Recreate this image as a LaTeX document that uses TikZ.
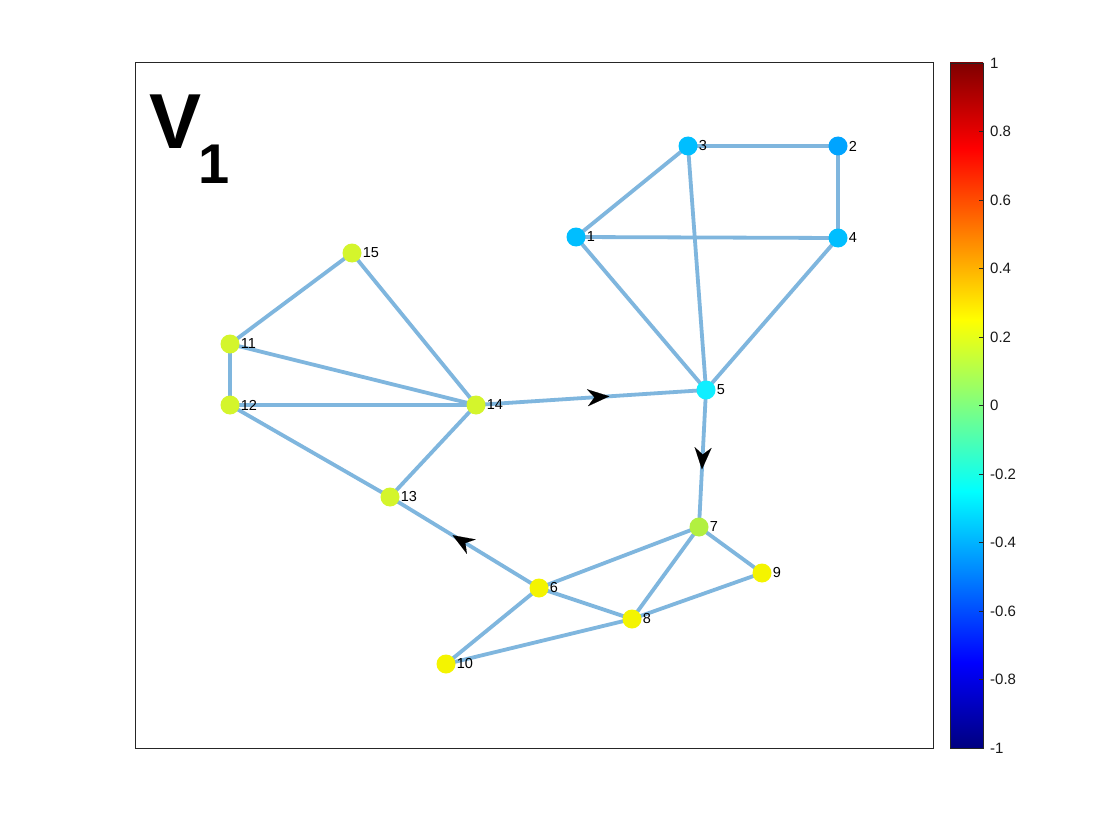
\documentclass[tikz,border=0pt]{standalone}
\usepackage{fontspec}
\setmainfont{Liberation Sans}
\usetikzlibrary{arrows.meta,decorations.markings}
\definecolor{edgec}{RGB}{127,182,222}
\definecolor{cA}{RGB}{0,190,255}
\definecolor{cB}{RGB}{0,164,255}
\definecolor{cC}{RGB}{16,238,255}
\definecolor{cD}{RGB}{178,240,64}
\definecolor{cE}{RGB}{212,245,44}
\definecolor{cF}{RGB}{244,244,0}
\definecolor{jet0}{RGB}{0,0,128}
\definecolor{jet1}{RGB}{0,0,255}
\definecolor{jet3}{RGB}{0,255,255}
\definecolor{jet5}{RGB}{255,255,0}
\definecolor{jet7}{RGB}{255,0,0}
\definecolor{jet8}{RGB}{128,0,0}
\definecolor{axc}{RGB}{38,38,38}
\tikzset{
  vtx/.style={circle,inner sep=0pt,minimum size=19pt,fill=#1},
  lbl/.style={anchor=west,font=\fontsize{14.5}{14.5}\selectfont,inner sep=0pt,xshift=1pt},
  edge/.style={draw=edgec,line width=3.8pt},
  midarrow/.style={decoration={markings,mark=at position 0.58 with {\arrow[black,line width=0.1pt]{Stealth[length=22pt,width=17pt,inset=7pt]}}},postaction={decorate}},
  ticklbl/.style={anchor=west,font=\fontsize{15}{15}\selectfont,text=black!90,inner sep=0pt}
}
\begin{document}
\begin{tikzpicture}[x=1pt,y=-1pt]
\useasboundingbox (0,0) rectangle (1120,840);
\fill[white] (0,0) rectangle (1120,840);
% axes box
\draw[axc,line width=1pt] (135,63) rectangle (933,748);
% vertices coordinates
\coordinate (p1) at (576,237);
\coordinate (p2) at (838,146);
\coordinate (p3) at (688,146);
\coordinate (p4) at (838,238);
\coordinate (p5) at (706,390);
\coordinate (p6) at (539,588);
\coordinate (p7) at (699,527);
\coordinate (p8) at (632,619);
\coordinate (p9) at (762,573);
\coordinate (p10) at (446,664);
\coordinate (p11) at (230,344);
\coordinate (p12) at (230,405);
\coordinate (p13) at (390,497);
\coordinate (p14) at (476,405);
\coordinate (p15) at (352,253);
% edges
\draw[edge] (p1) -- (p3);
\draw[edge] (p3) -- (p2);
\draw[edge] (p2) -- (p4);
\draw[edge] (p1) -- (p4);
\draw[edge] (p1) -- (p5);
\draw[edge] (p3) -- (p5);
\draw[edge] (p4) -- (p5);
\draw[edge] (p7) -- (p6);
\draw[edge] (p7) -- (p8);
\draw[edge] (p7) -- (p9);
\draw[edge] (p6) -- (p8);
\draw[edge] (p8) -- (p9);
\draw[edge] (p6) -- (p10);
\draw[edge] (p10) -- (p8);
\draw[edge] (p13) -- (p14);
\draw[edge] (p13) -- (p12);
\draw[edge] (p12) -- (p14);
\draw[edge] (p12) -- (p11);
\draw[edge] (p11) -- (p14);
\draw[edge] (p11) -- (p15);
\draw[edge] (p15) -- (p14);
\draw[edge,midarrow] (p14) -- (p5);
\draw[edge,midarrow] (p5) -- (p7);
\draw[edge,midarrow] (p6) -- (p13);
% nodes
\node[vtx=cA] (n1) at (p1) {};
\node[vtx=cB] (n2) at (p2) {};
\node[vtx=cA] (n3) at (p3) {};
\node[vtx=cA] (n4) at (p4) {};
\node[vtx=cC] (n5) at (p5) {};
\node[vtx=cF] (n6) at (p6) {};
\node[vtx=cD] (n7) at (p7) {};
\node[vtx=cF] (n8) at (p8) {};
\node[vtx=cF] (n9) at (p9) {};
\node[vtx=cF] (n10) at (p10) {};
\node[vtx=cE] (n11) at (p11) {};
\node[vtx=cE] (n12) at (p12) {};
\node[vtx=cE] (n13) at (p13) {};
\node[vtx=cE] (n14) at (p14) {};
\node[vtx=cE] (n15) at (p15) {};
% labels
\foreach \i in {1,...,15} {\node[lbl] (l\i) at (n\i.east) {\i};}
% title
\node[anchor=base west,inner sep=0pt,font=\fontsize{78}{78}\bfseries\selectfont] (tV) at (149,149) {V};
\node[anchor=base west,inner sep=0pt,font=\fontsize{56}{56}\bfseries\selectfont] (t1) at (198,184) {1};
% colorbar
\shade[bottom color=jet0,top color=jet1] (950,748) rectangle (983,662.4);
\shade[bottom color=jet1,top color=jet3] (950,662.4) rectangle (983,491.1);
\shade[bottom color=jet3,top color=jet5] (950,491.1) rectangle (983,319.9);
\shade[bottom color=jet5,top color=jet7] (950,319.9) rectangle (983,148.6);
\shade[bottom color=jet7,top color=jet8] (950,148.6) rectangle (983,63);
\draw[axc,line width=0.8pt] (950,63) rectangle (983,748);
\foreach \v/\t in {-1/-1,-0.8/-0.8,-0.6/-0.6,-0.4/-0.4,-0.2/-0.2,0/0,0.2/0.2,0.4/0.4,0.6/0.6,0.8/0.8,1/1} {
  \pgfmathsetmacro{\yy}{748-(\v+1)*342.5}
  \draw[axc,line width=0.8pt] (979,\yy) -- (983,\yy);
  \node[ticklbl] at (990,\yy) {\t};
}
\end{tikzpicture}
\end{document}
